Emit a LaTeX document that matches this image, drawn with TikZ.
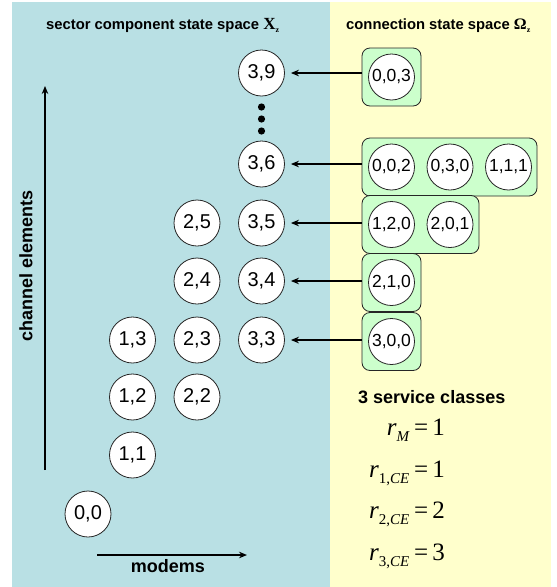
\documentclass[tikz,border=0pt]{standalone}
\usepackage{fontspec}
\setmainfont{Liberation Sans}
\newfontfamily\tms{Liberation Serif}
\usetikzlibrary{arrows.meta}
\definecolor{panelblue}{RGB}{185,224,228}
\definecolor{panelyellow}{RGB}{255,255,204}
\definecolor{grpgreen}{RGB}{204,255,204}
\newcommand\rsub[1]{{\tms\itshape r}\raisebox{-6pt}{\fontsize{15}{15}\selectfont\tms #1}}
\tikzset{
  st/.style={circle, draw=black!85, fill=white, line width=0.8pt, minimum size=46pt, inner sep=0pt, font=\fontsize{20}{20}\selectfont},
  cst/.style={circle, draw=black!85, fill=white, line width=0.8pt, minimum size=46pt, inner sep=0pt, font=\fontsize{17.5}{17.5}\selectfont},
  grp/.style={rectangle, rounded corners=8pt, draw=black!85, fill=grpgreen, line width=0.8pt, minimum height=58pt, inner sep=0pt},
  arr/.style={line width=1.5pt, -{Stealth[length=8pt,width=6.5pt]}, shorten >=6pt},
  axis/.style={line width=1.5pt, -{Stealth[length=8pt,width=6.5pt]}},
  ttl/.style={font=\bfseries\fontsize{14.8}{16}\selectfont, anchor=base west, inner sep=0pt},
  lbl/.style={font=\bfseries\fontsize{18}{20}\selectfont, inner sep=0pt},
  eq/.style={font=\fontsize{25}{26}\selectfont, anchor=base west, inner sep=0pt}
}
\begin{document}
\begin{tikzpicture}[x=1pt, y=-1pt]
\useasboundingbox (0,0) rectangle (557,587);
\fill[panelblue] (12,2) rectangle (330,587);
\fill[panelyellow] (330,2) rectangle (551,587);

% titles
\node[ttl] (t1) at (46,29) {sector component state space {\tms\bfseries\fontsize{17}{17}\selectfont X}\raisebox{-3pt}{\fontsize{8}{8}\selectfont\tms\bfseries z}};
\node[ttl] (t2) at (346,29) {connection state space {\tms\bfseries\fontsize{16}{16}\selectfont Ω}\raisebox{-3pt}{\fontsize{8}{8}\selectfont\tms\bfseries z}};

% left states
\node[st] (c00) at (88,514) {0,0};
\node[st] (c11) at (132.5,455) {1,1};
\node[st] (c12) at (132.5,397) {1,2};
\node[st] (c13) at (132.5,340) {1,3};
\node[st] (c22) at (197,397) {2,2};
\node[st] (c23) at (197,340) {2,3};
\node[st] (c24) at (197,281) {2,4};
\node[st] (c25) at (197,223) {2,5};
\node[st] (c33) at (261.5,340) {3,3};
\node[st] (c34) at (261.5,281) {3,4};
\node[st] (c35) at (261.5,223) {3,5};
\node[st] (c36) at (261.5,164) {3,6};
\node[st] (c39) at (261.5,73) {3,9};
\fill (261.5,107) circle (3.6pt) (261.5,119) circle (3.6pt) (261.5,131) circle (3.6pt);

% groups
\node[grp, minimum width=59pt] (g1) at (391.5,77) {};
\node[cst] (o003) at (391.5,77) {0,0,3};
\node[grp, minimum width=175pt] (g2) at (449.5,167) {};
\node[cst] (o002) at (391.5,167) {0,0,2};
\node[cst] (o030) at (450,167) {0,3,0};
\node[cst] (o111) at (508.5,167) {1,1,1};
\node[grp, minimum width=117pt] (g3) at (420.5,224.5) {};
\node[cst] (o120) at (391.5,224.5) {1,2,0};
\node[cst] (o201) at (450,224.5) {2,0,1};
\node[grp, minimum width=59pt] (g4) at (391.5,282.5) {};
\node[cst] (o210) at (391.5,282.5) {2,1,0};
\node[grp, minimum width=59pt] (g5) at (391.5,341.5) {};
\node[cst] (o300) at (391.5,341.5) {3,0,0};

% arrows
\draw[arr] (g1.west |- c39) -- (c39.east);
\draw[arr] (g2.west |- c36) -- (c36.east);
\draw[arr] (g3.west |- c35) -- (c35.east);
\draw[arr] (g4.west |- c34) -- (c34.east);
\draw[arr] (g5.west |- c33) -- (c33.east);

% axes
\coordinate (ya) at (45,470);
\coordinate (yb) at (45,86);
\draw[axis] (ya) -- (yb);
\node[lbl, rotate=90] (ylab) at (26,266) {channel elements};
\coordinate (xa) at (97,555);
\coordinate (xb) at (247,555);
\draw[axis] (xa) -- (xb);
\node[lbl, anchor=base] (xlab) at (168,572) {modems};

% service classes
\node[lbl, anchor=base west] (sc) at (358,403) {3 service classes};
\node[eq] (e1) at (414,435) {\llap{\rsub{\itshape M}\hspace{5pt}}{\tms =\,1}};
\node[eq] (e2) at (414,477) {\llap{\rsub{1,\itshape CE}\hspace{5pt}}{\tms =\,1}};
\node[eq] (e3) at (414,518) {\llap{\rsub{2,\itshape CE}\hspace{5pt}}{\tms =\,2}};
\node[eq] (e4) at (414,560) {\llap{\rsub{3,\itshape CE}\hspace{5pt}}{\tms =\,3}};
\end{tikzpicture}
\end{document}
